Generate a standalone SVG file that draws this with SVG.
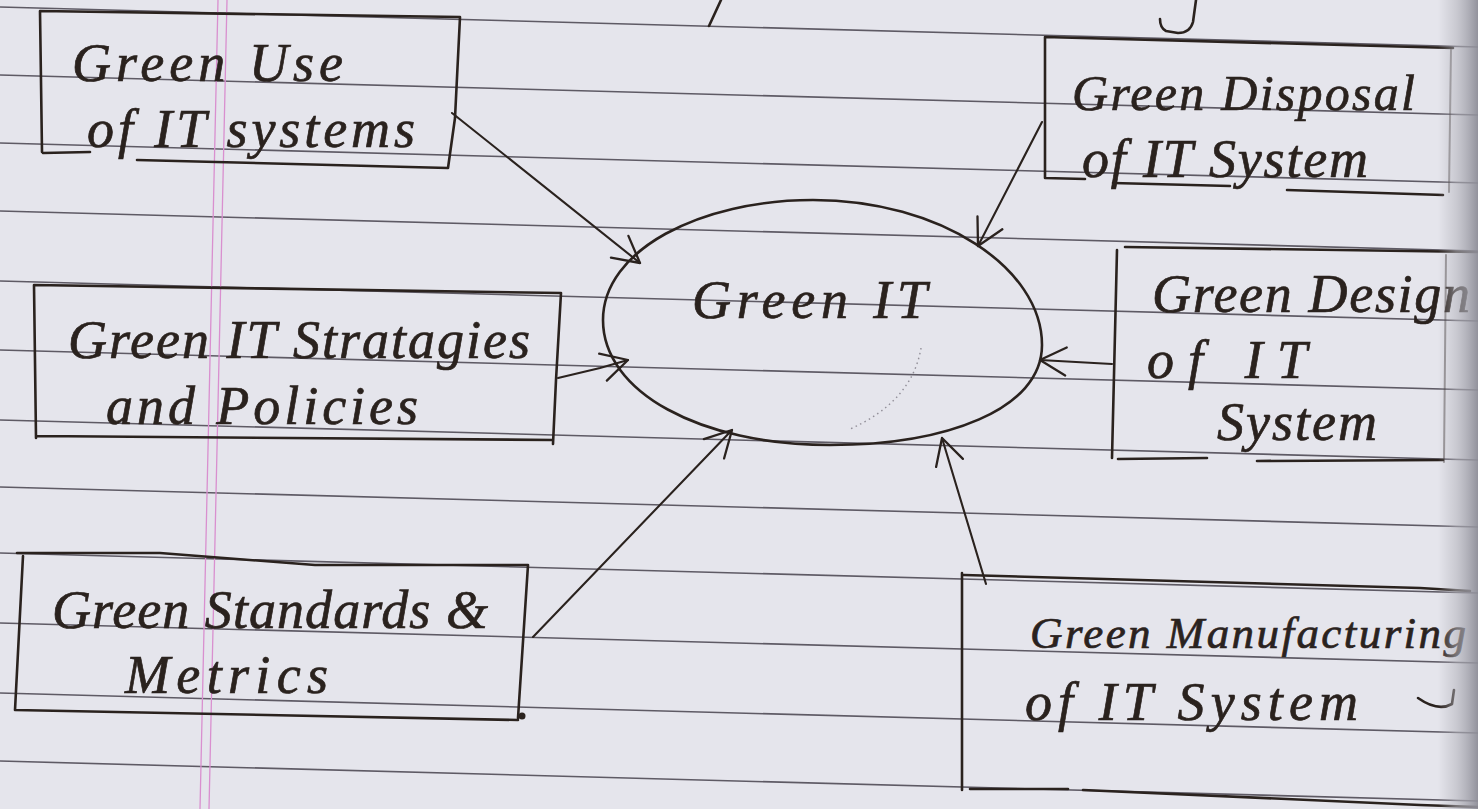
<svg xmlns="http://www.w3.org/2000/svg" width="1478" height="809" viewBox="0 0 1478 809">
  <defs>
    <style>
      .rule { stroke: #4f4a55; stroke-width: 1.6; fill: none; opacity: 0.9; }
      .margin { stroke: #d98fcf; stroke-width: 1.3; fill: none; }
      .ink { stroke: #2a221e; stroke-width: 2.6; fill: none; stroke-linecap: round; stroke-linejoin: round; }
      .faint { stroke: #2a221e; stroke-width: 2; fill: none; opacity: 0.45; stroke-linecap: round; }
      .conn { stroke: #2a221e; stroke-width: 2.1; fill: none; stroke-linecap: round; marker-end: url(#barb); }
      .hand { font-family: "Liberation Serif", "DejaVu Serif", serif; font-style: italic; font-size: 54px; fill: #2a221e; stroke: #2a221e; stroke-width: 0.7; }
      .hand.mid { font-size: 50px; }
      .hand.small { font-size: 45px; }
    </style>
    <marker id="barb" viewBox="-30 -18 34 36" refX="0" refY="0" markerWidth="34" markerHeight="36" markerUnits="userSpaceOnUse" orient="auto">
      <path d="M -26 -14 L 0 0 L -26 14" fill="none" stroke="#2a221e" stroke-width="2.3" stroke-linecap="round" stroke-linejoin="round"/>
    </marker>
    <linearGradient id="edgeShade" x1="0" y1="0" x2="1" y2="0">
      <stop offset="0" stop-color="#b4b4bc" stop-opacity="0"/>
      <stop offset="0.45" stop-color="#b4b4bc" stop-opacity="0.55"/>
      <stop offset="1" stop-color="#8e8e98" stop-opacity="0.95"/>
    </linearGradient>
  </defs>

  <!-- ruled notebook page -->
  <g id="paper">
    <rect x="0" y="0" width="1478" height="809" fill="#e5e5ec"/>
    <path class="rule" d="M0 7 L1478 47 M0 75 L1478 115 M0 143 L1478 183 M0 211 L1478 251 M0 281 L1478 321 M0 350 L1478 390 M0 420 L1478 460 M0 487 L1478 527 M0 553 L1478 593 M0 623 L1478 663 M0 693 L1478 733 M0 761 L1478 801"/>
    <path class="margin" d="M218 0 L200 809 M227 0 L209 809"/>
    <!-- ink fragments of the line above the diagram -->
    <path class="ink" d="M721 0 L709 26"/>
    <path class="ink" d="M1196 0 L1193 22 Q1190 33 1178 33 L1166 31 Q1160 28 1160 19"/>
  </g>

  <!-- connectors -->
  <g id="connectors">
    <path class="conn" d="M452 113 L640 263"/>
    <path class="conn" d="M1042 122 L978 246"/>
    <path class="conn" d="M558 378 L600 368 L628 360"/>
    <path class="conn" d="M1112 364 L1040 360"/>
    <path class="conn" d="M533 637 L732 430"/>
    <path class="conn" d="M986 584 L942 438"/>
  </g>

  <!-- central node -->
  <g id="node-green-it">
    <path class="ink" stroke-width="2.2" d="M603 320 C603 250 700 200 813 200 C940 200 1042 268 1042 345 C1042 410 945 445 830 445 C700 445 603 392 603 320 Z"/>
    <path d="M921 348 Q912 402 848 430" fill="none" stroke="#5a5560" stroke-width="1.4" stroke-dasharray="1.5 3.5" opacity="0.6"/>
    <text class="hand" x="692" y="318" textLength="235" lengthAdjust="spacing">Green IT</text>
  </g>

  <g id="node-green-use">
    <path class="ink" d="M42 152 L40 11 L460 17 L455 118 L448 168 L137 160 M43 153 L90 152"/>
    <text class="hand" x="72" y="81" textLength="271" lengthAdjust="spacing">Green Use</text>
    <text class="hand" x="87" y="147" textLength="328" lengthAdjust="spacing">of IT systems</text>
  </g>

  <g id="node-green-disposal">
    <path class="ink" d="M1045 178 L1045 37 L1453 48 M1045 178 L1085 179 M1113 183 L1230 186 M1287 190 L1443 195"/>
    <path class="faint" d="M1451 50 L1449 192"/>
    <text class="hand mid" x="1072" y="110" textLength="343" lengthAdjust="spacing">Green Disposal</text>
    <text class="hand" x="1082" y="177" textLength="286" lengthAdjust="spacing">of IT System</text>
  </g>

  <g id="node-green-strategies">
    <path class="ink" d="M36 438 L34 285 L561 293 L556 380 L553 444 M37 436 L553 440"/>
    <text class="hand" x="68" y="358" textLength="462" lengthAdjust="spacing">Green IT Stratagies</text>
    <text class="hand" x="106" y="424" textLength="312" lengthAdjust="spacing">and Policies</text>
  </g>

  <g id="node-green-design">
    <path class="ink" d="M1125 247 L1477 252 M1117 250 L1112 458 M1118 459 L1207 458 M1257 461 L1443 460"/>
    <path class="faint" d="M1446 255 L1444 462"/>
    <text class="hand" x="1152" y="312" textLength="318" lengthAdjust="spacing">Green Design</text>
    <text class="hand" x="1147" y="378" textLength="160" lengthAdjust="spacing">of IT</text>
    <text class="hand" x="1217" y="440" textLength="160" lengthAdjust="spacing">System</text>
  </g>

  <g id="node-green-standards">
    <path class="ink" d="M17 553 L160 553 L315 565 L528 565 L518 718 M23 556 L15 710 L518 720"/>
    <circle cx="522" cy="716" r="3.5" fill="#2a221e"/>
    <text class="hand" x="52" y="628" textLength="436" lengthAdjust="spacing">Green Standards &amp;</text>
    <text class="hand" x="125" y="693" textLength="203" lengthAdjust="spacing">Metrics</text>
  </g>

  <g id="node-green-manufacturing">
    <path class="ink" d="M962 573 L962 790 M964 575 L1420 588 L1470 591 M970 789 L1068 789 M1083 790 L1420 805 L1478 807"/>
    <path class="ink" d="M1418 698 Q1438 712 1452 704 L1454 690"/>
    <text class="hand small" x="1030" y="648" textLength="436" lengthAdjust="spacing">Green Manufacturing</text>
    <text class="hand" x="1025" y="720" textLength="333" lengthAdjust="spacing">of IT System</text>
  </g>

  <!-- page curl shadow at the binding edge -->
  <rect x="1438" y="0" width="40" height="809" fill="url(#edgeShade)"/>
</svg>
